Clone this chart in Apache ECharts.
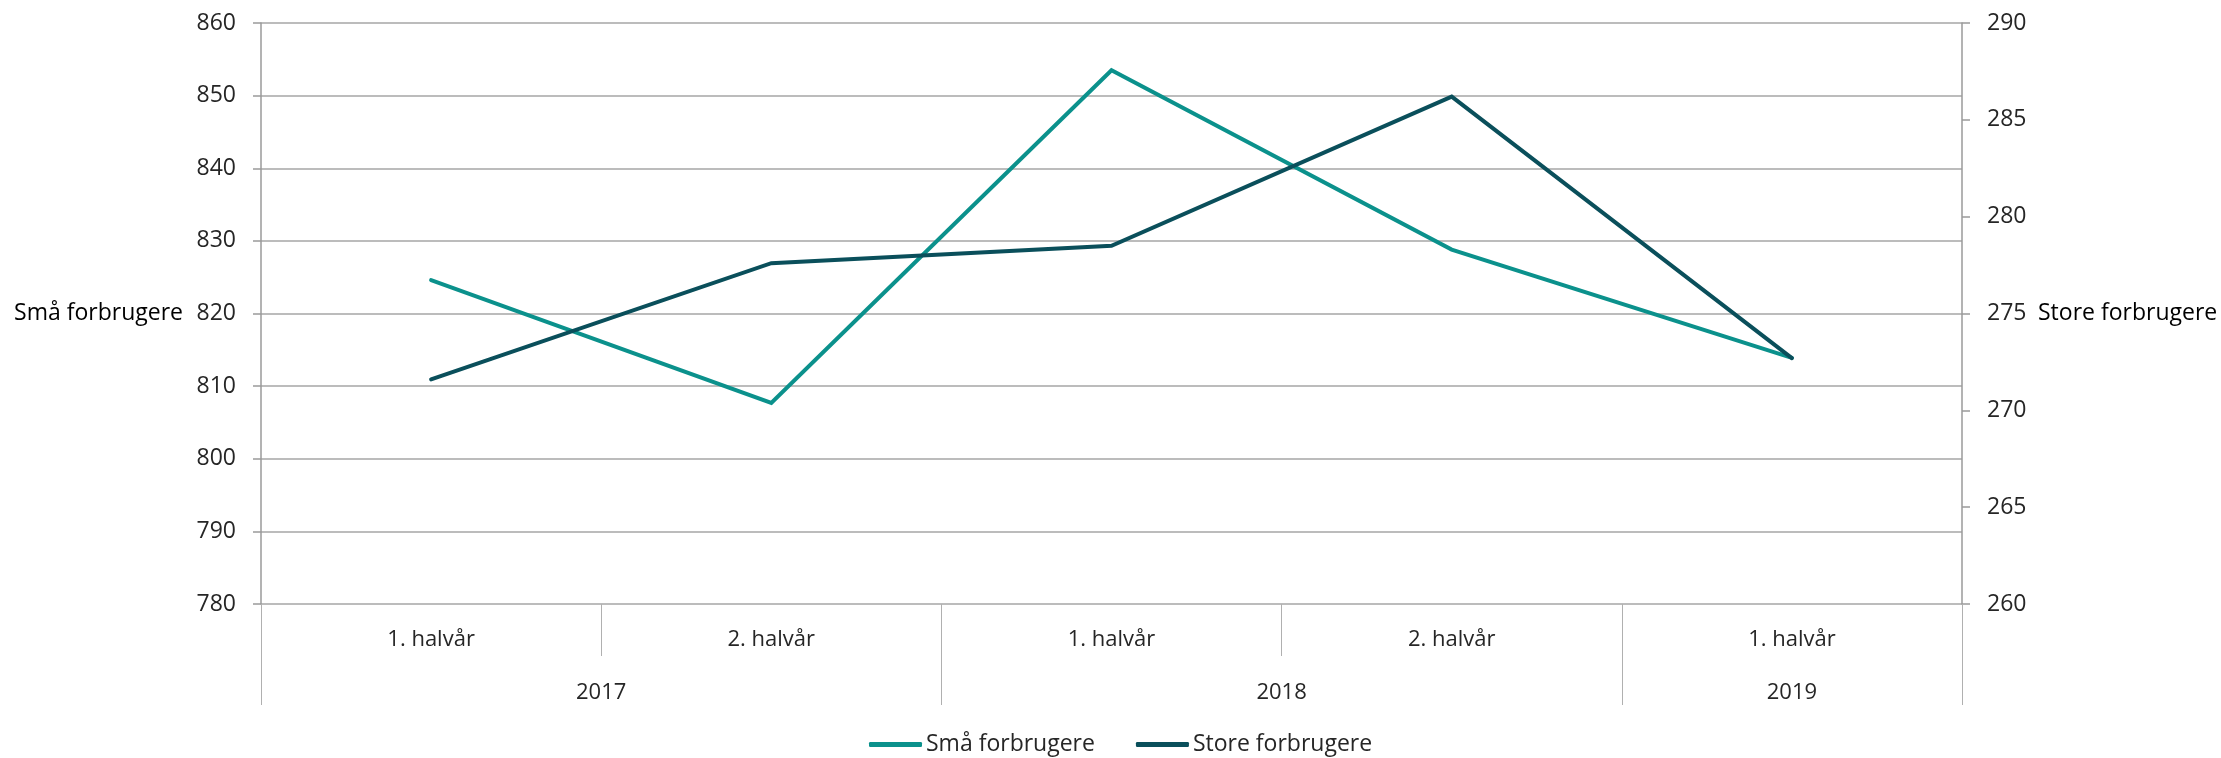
<!DOCTYPE html>
<html>
<head>
<meta charset="utf-8">
<script src="https://cdn.jsdelivr.net/npm/echarts@6/dist/echarts.min.js"></script>
<style>
html,body{margin:0;padding:0;background:#fff;}
#chart{width:2221px;height:758px;}
</style>
</head>
<body>
<div id="chart"></div>
<script>
// ---- data ----
var halfLabels = ['1. halvår', '2. halvår', '1. halvår', '2. halvår', '1. halvår'];
var periodKeys = ['2017-H1', '2017-H2', '2018-H1', '2018-H2', '2019-H1'];
var yearLabels = ['2017', '2018', '2019'];
var yearSpans = [2, 2, 1]; // number of half-years per year
var smallValues = [824.6, 807.7, 853.5, 828.8, 813.9];
var largeValues = [271.6, 277.6, 278.5, 286.2, 272.7];
var leftTitle = 'Små forbrugere';
var rightTitle = 'Store forbrugere';

// year boundaries and centers (in half-year units)
var yearBounds = [0], yearCenters = [];
(function () {
  var acc = 0;
  for (var i = 0; i < yearSpans.length; i++) {
    yearCenters.push(acc + yearSpans[i] / 2);
    acc += yearSpans[i];
    yearBounds.push(acc);
  }
})();

var FONT = '"Open Sans", "Noto Sans", sans-serif';
var TEXT = '#262626';
var GRID = '#a6a6a6';
var AXIS = '#9a9a9a';
var TEAL = '#0b918c';
var DARK = '#0a4f5b';

var chart = echarts.init(document.getElementById('chart'), null, {renderer: 'canvas'});
chart.setOption({
  backgroundColor: '#ffffff',
  animation: false,
  textStyle: {fontFamily: FONT},
  grid: {left: 261, right: 259, top: 23, bottom: 154, containLabel: false},
  legend: {
    left: 869, top: 733, padding: 0,
    itemWidth: 53, itemHeight: 5, itemGap: 41,
    icon: 'roundRect',
    textStyle: {fontFamily: FONT, fontSize: 23, color: TEXT, padding: [0, 0, 0, -1]},
    data: [leftTitle, rightTitle]
  },
  xAxis: [
    {
      type: 'category',
      data: periodKeys,
      boundaryGap: true,
      position: 'bottom',
      axisLine: {show: false},
      axisTick: {show: true, interval: 0, length: 52, lineStyle: {color: '#b0b0b0', width: 1}},
      axisLabel: {
        interval: 0, margin: 25, fontSize: 22, color: TEXT, fontFamily: FONT,
        formatter: function (v, i) { return halfLabels[i]; }
      },
      splitLine: {show: false}
    },
    {
      type: 'value',
      min: 0, max: periodKeys.length,
      position: 'bottom',
      axisLine: {show: false},
      axisTick: {show: true, customValues: yearBounds, length: 101, lineStyle: {color: '#b0b0b0', width: 1}},
      axisLabel: {
        customValues: yearCenters, margin: 78, fontSize: 22, color: TEXT, fontFamily: FONT,
        formatter: function (v) {
          for (var i = 0; i < yearCenters.length; i++) {
            if (Math.abs(yearCenters[i] - v) < 1e-6) return yearLabels[i];
          }
          return '';
        }
      },
      splitLine: {show: false}
    }
  ],
  yAxis: [
    {
      type: 'value',
      min: 780, max: 860, interval: 10,
      position: 'left',
      name: leftTitle,
      nameLocation: 'middle',
      nameRotate: 0,
      nameGap: 78,
      nameTextStyle: {fontSize: 23, color: '#000', fontFamily: FONT, align: 'right', verticalAlign: 'middle'},
      axisLine: {show: true, lineStyle: {color: AXIS, width: 1.5}},
      axisTick: {show: true, length: 8, lineStyle: {color: AXIS, width: 1.5}},
      axisLabel: {margin: 25, fontSize: 23, color: TEXT, fontFamily: FONT},
      splitLine: {show: true, lineStyle: {color: GRID, width: 1.5}}
    },
    {
      type: 'value',
      min: 260, max: 290, interval: 5,
      position: 'right',
      name: rightTitle,
      nameLocation: 'middle',
      nameRotate: 0,
      nameGap: 76,
      nameTextStyle: {fontSize: 23, color: '#000', fontFamily: FONT, align: 'left', verticalAlign: 'middle'},
      axisLine: {show: true, lineStyle: {color: AXIS, width: 1.5}},
      axisTick: {show: true, length: 8, lineStyle: {color: AXIS, width: 1.5}},
      axisLabel: {margin: 25, fontSize: 23, color: TEXT, fontFamily: FONT},
      splitLine: {show: false}
    }
  ],
  series: [
    {
      name: leftTitle,
      type: 'line',
      xAxisIndex: 0, yAxisIndex: 0,
      data: smallValues,
      symbol: 'none',
      lineStyle: {color: TEAL, width: 4, cap: 'round', join: 'miter'},
      itemStyle: {color: TEAL}
    },
    {
      name: rightTitle,
      type: 'line',
      xAxisIndex: 0, yAxisIndex: 1,
      data: largeValues,
      symbol: 'none',
      lineStyle: {color: DARK, width: 4, cap: 'round', join: 'miter'},
      itemStyle: {color: DARK}
    }
  ]
});
</script>
</body>
</html>
